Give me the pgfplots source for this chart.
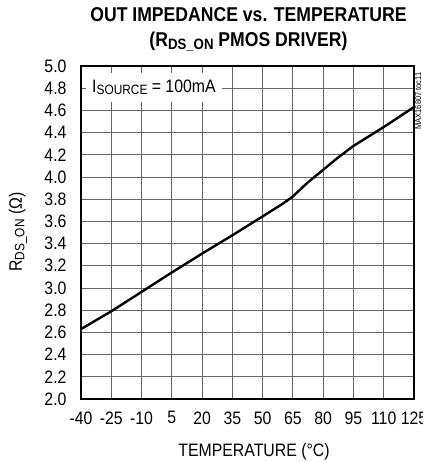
\documentclass[border=0pt]{standalone}
\usepackage{fontspec}
\setmainfont{Liberation Sans}[FakeStretch=0.88]
\usepackage{pgfplots}
\pgfplotsset{compat=1.18}
\begin{document}
\begin{tikzpicture}
\begin{axis}[
  scale only axis,
  width=333pt, height=333pt,
  xmin=-40, xmax=125, ymin=2.0, ymax=5.0,
  xtick={-40,-25,-10,5,20,35,50,65,80,95,110,125},
  xticklabels={-40,-25,-10,5,20,35,50,65,80,95,110,125},
  ytick={2.0,2.2,2.4,2.6,2.8,3.0,3.2,3.4,3.6,3.8,4.0,4.2,4.4,4.6,4.8,5.0},
  yticklabels={2.0,2.2,2.4,2.6,2.8,3.0,3.2,3.4,3.6,3.8,4.0,4.2,4.4,4.6,4.8,5.0},
  major tick length=0pt,
  grid=major,
  major grid style={black!60, line width=0.9pt},
  axis line style={line width=2pt},
  tick label style={font=\fontsize{18}{18}\selectfont},
  yticklabel style={xshift=-11pt},
  xticklabel style={yshift=-9pt},
  clip=false,
]
\addplot[black, line width=2.4pt] coordinates {
(-40,2.63) (-25,2.79) (-10,2.965) (5,3.14) (20,3.31) (35,3.475) (50,3.645)
(60,3.76) (65,3.825) (72,3.945) (80,4.065) (87,4.17) (95,4.28) (110,4.45) (125,4.63)
};
\end{axis}
% legend-like text box
\node[fill=white, anchor=west, inner xsep=6pt, inner ysep=7pt, text height=12.5pt, text depth=2.5pt,
      font=\fontsize{18}{18}\selectfont] at (5pt,311.5pt)
  {I\raisebox{-2.5pt}{\fontsize{13.5}{14}\selectfont SOURCE} = 100mA};
% title
\node[anchor=base, font=\bfseries\fontsize{20}{20}\selectfont] at (167.5pt,377pt)
  {OUT IMPEDANCE vs. TEMPERATURE};
\node[anchor=base, font=\bfseries\fontsize{20}{20}\selectfont] at (167.5pt,352pt)
  {(R\raisebox{-3pt}{\fontsize{15}{15}\selectfont DS\_ON} PMOS DRIVER)};
% x label
\node[anchor=base, font=\fontsize{18}{18}\selectfont] at (173pt,-57pt)
  {TEMPERATURE (°C)};
% y label
\node[anchor=base, rotate=90, font=\fontsize{18}{18}\selectfont] at (-59pt,167pt)
  {R\raisebox{-2.5pt}{\fontsize{13.5}{14}\selectfont DS\_ON} (Ω)};
% side code
\node[anchor=base, rotate=90, font=\fontsize{8.5}{9}\selectfont] at (340pt,298pt)
  {MAX16807 toc11};
\pgfresetboundingbox
\useasboundingbox (-81pt,-63pt) rectangle (341pt,399pt);
\end{tikzpicture}
\end{document}
